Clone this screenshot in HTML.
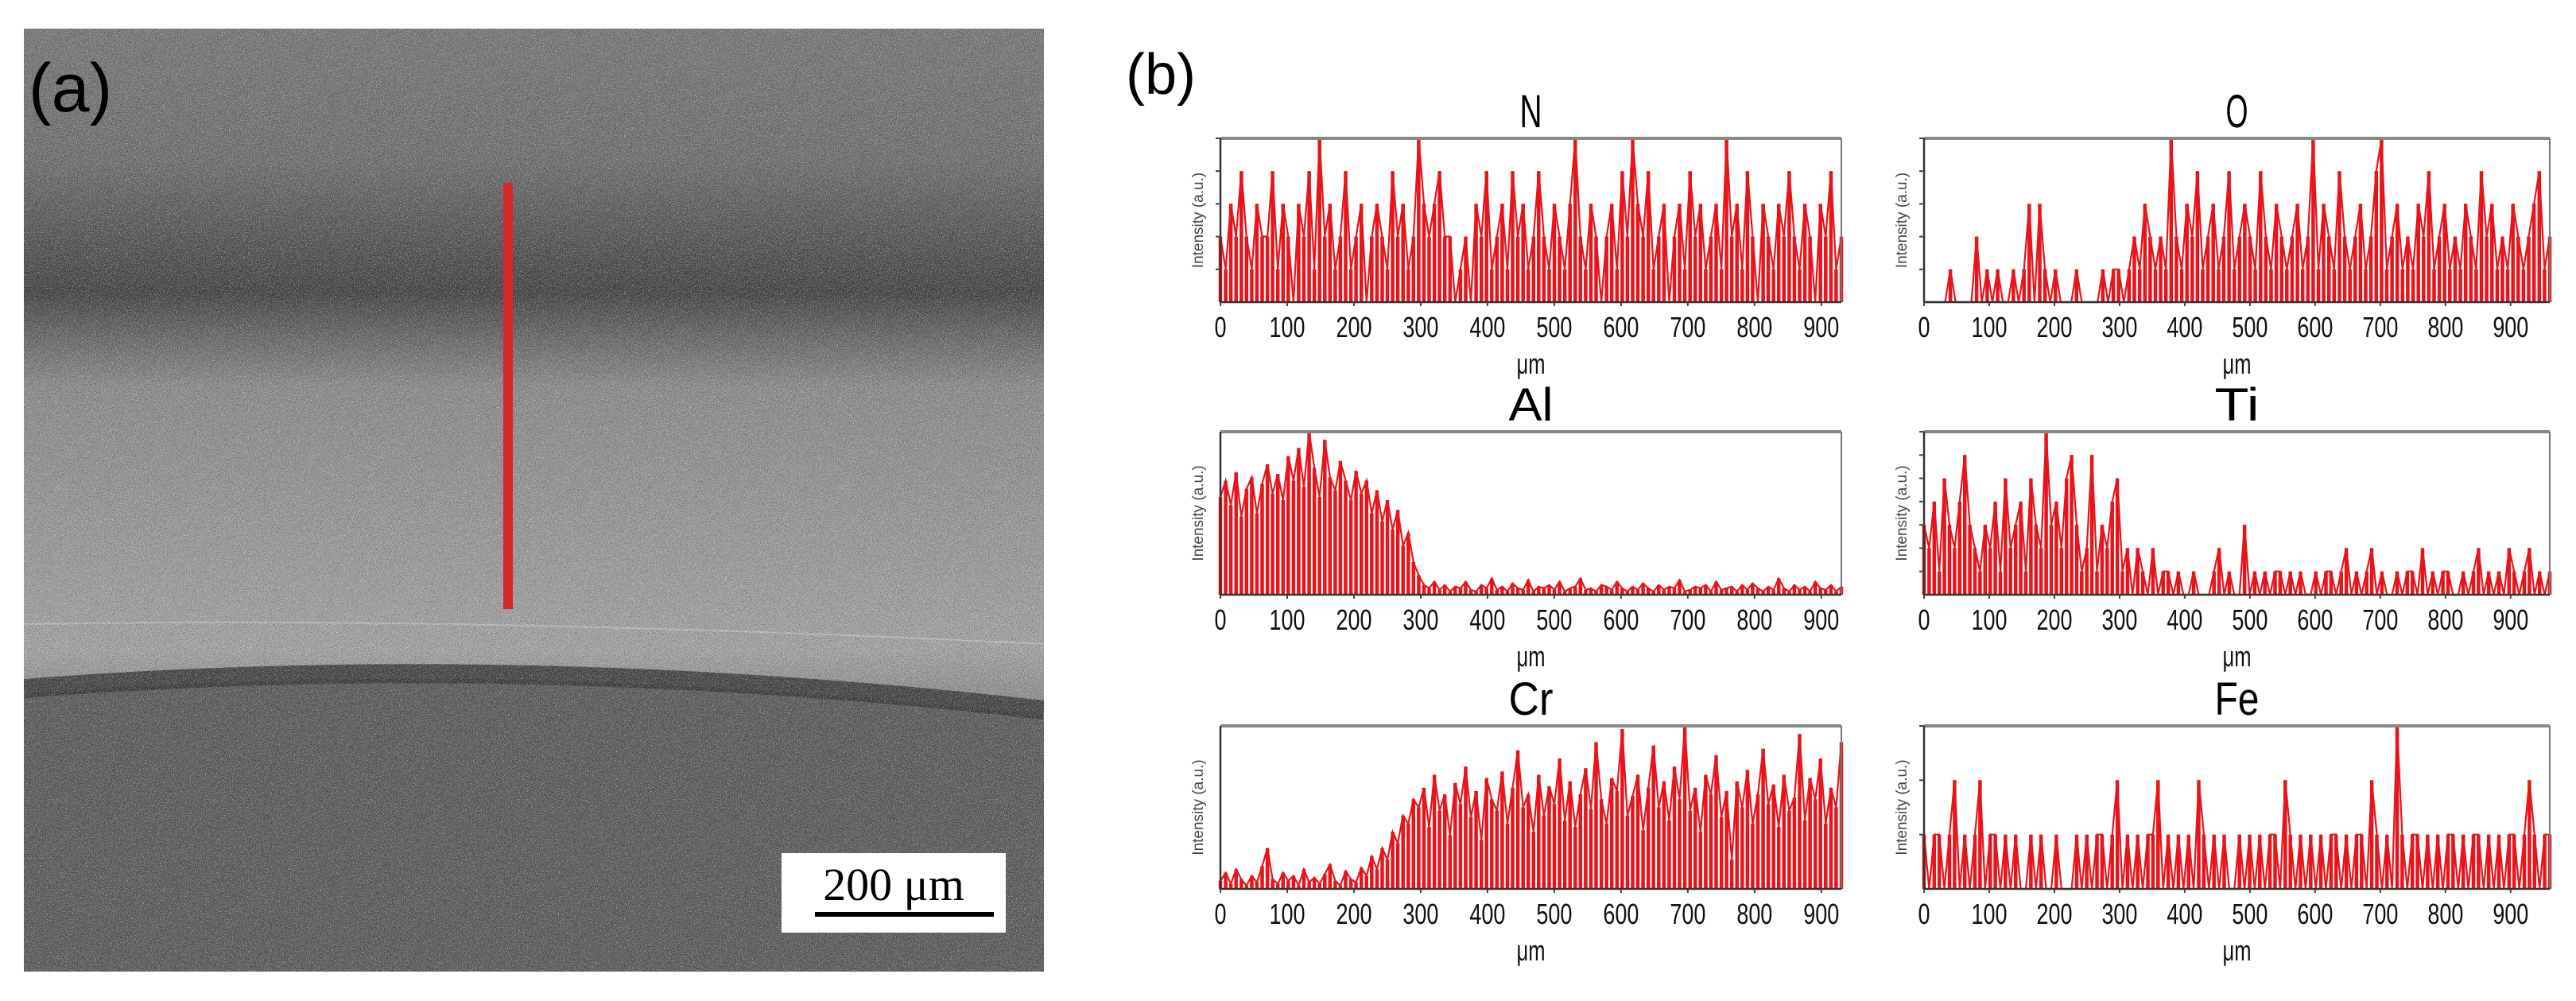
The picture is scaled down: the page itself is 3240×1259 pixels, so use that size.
<!DOCTYPE html>
<html><head><meta charset="utf-8"><style>
html,body{margin:0;padding:0;background:#fff;}
svg{display:block;}
</style></head><body>
<svg id="fig" width="3240" height="1259" viewBox="0 0 3240 1259" xmlns="http://www.w3.org/2000/svg">
<defs>
<filter id="noiseW" x="0" y="0" width="100%" height="100%">
<feTurbulence type="fractalNoise" baseFrequency="1.3" numOctaves="1" seed="3"/>
<feColorMatrix type="matrix" values="0 0 0 0 1  0 0 0 0 1  0 0 0 0 1  6 0 0 0 -3.3"/>
</filter>
<filter id="noiseD" x="0" y="0" width="100%" height="100%">
<feTurbulence type="fractalNoise" baseFrequency="1.3" numOctaves="1" seed="11"/>
<feColorMatrix type="matrix" values="0 0 0 0 0  0 0 0 0 0  0 0 0 0 0  -6 0 0 0 2.8"/>
</filter>
<linearGradient id="semg" x1="0" y1="0" x2="0" y2="1">
<stop offset="0" stop-color="#7a7a7a"/>
<stop offset="0.14" stop-color="#727272"/>
<stop offset="0.22" stop-color="#585858"/>
<stop offset="0.28" stop-color="#464646"/>
<stop offset="0.33" stop-color="#6c6c6c"/>
<stop offset="0.38" stop-color="#8e8e8e"/>
<stop offset="0.55" stop-color="#9c9c9c"/>
<stop offset="0.66" stop-color="#a6a6a6"/>
<stop offset="0.7" stop-color="#949494"/>
<stop offset="1" stop-color="#8a8a8a"/>
</linearGradient>
<clipPath id="semclip"><rect x="30" y="36" width="1283" height="1186"/></clipPath>
</defs>
<g id="sem" clip-path="url(#semclip)">
<rect x="30" y="36" width="1283" height="1186" fill="url(#semg)"/>
<path d="M30 872 Q 650 825 1313 900 L1313 1222 L30 1222 Z" fill="#5e5e5e"/>
<path d="M30 866 Q 650 818 1313 893" stroke="#3a3a3a" stroke-width="24" fill="none" opacity="0.85"/>
<path d="M30 785 Q 600 775 1313 810" stroke="#d0d0d0" stroke-width="2" fill="none" opacity="0.6"/>
<rect x="30" y="36" width="1283" height="1186" filter="url(#noiseW)" opacity="0.7"/>
<rect x="30" y="36" width="1283" height="1186" filter="url(#noiseD)" opacity="0.4"/>
</g>
<rect x="633" y="230" width="12" height="536" fill="#d42a2a"/>
<text x="36" y="140" font-family="Liberation Sans, sans-serif" font-size="86" fill="#000">(a)</text>
<g>
<rect x="983" y="1073" width="282" height="100" fill="#fff"/>
<text x="1124" y="1132" text-anchor="middle" font-family="Liberation Serif, serif" font-size="58" fill="#000">200 μm</text>
<rect x="1025" y="1147" width="225" height="6" fill="#000"/>
</g>
<text x="1416" y="118" font-family="Liberation Sans, sans-serif" font-size="72" fill="#000">(b)</text>
<g id="charts"></g>
</svg>
<script>
const titles = ["N","O","Al","Ti","Cr","Fe"];
const xTicks = [0,100,200,300,400,500,600,700,800,900];
const yMaxes = [5,5,100,7,100,3];
const yTickCounts = [5,5,0,7,0,3];
const nData = [2,1,3,2,4,2,1,3,2,2,4,1,3,2,0,3,2,4,1,5,2,3,1,2,4,1,2,3,0,2,3,2,1,4,2,3,1,2,5,3,2,3,4,2,2,0,1,2,0,3,2,4,1,2,3,1,4,2,3,1,2,4,2,1,3,2,1,3,5,2,1,3,2,0,2,3,1,4,2,5,3,2,4,1,2,3,0,2,3,1,4,2,3,1,2,3,1,5,2,3,1,4,2,0,3,2,1,3,2,4,2,1,3,2,0,3,2,4,1,2];
const oData = [0,0,0,0,0,1,0,0,0,0,2,0,1,0,1,0,0,1,0,1,3,0,3,1,0,1,0,0,0,1,0,0,0,0,1,0,1,1,0,1,2,1,3,2,1,2,1,5,2,1,3,2,4,1,2,3,1,2,4,1,2,3,2,1,4,2,1,3,2,1,2,3,1,2,5,1,3,2,1,4,2,1,2,3,1,2,4,5,1,2,3,1,2,1,3,2,4,1,2,3,1,2,1,3,2,1,4,2,3,1,2,1,3,2,1,2,3,4,1,2];
const alData = [60,70,55,75,48,65,72,50,68,80,62,74,58,85,70,90,66,100,78,60,95,72,64,82,70,58,76,62,70,50,64,45,58,40,52,30,38,20,12,6,4,8,3,6,2,5,4,8,3,2,6,4,10,3,5,2,7,4,3,9,2,5,4,6,3,8,2,4,5,10,3,4,2,6,5,3,8,4,2,5,3,7,4,2,6,3,5,4,9,2,3,5,4,6,2,8,3,4,5,2,6,3,7,4,2,5,3,10,4,2,6,3,5,2,8,4,3,6,2,5];
const tiData = [3,2,4,1,5,3,2,4,6,3,2,1,3,2,4,1,5,2,3,4,1,5,3,2,7,3,4,2,5,6,3,1,2,6,1,3,2,4,5,1,2,0,2,1,0,2,0,1,1,0,1,0,0,1,0,0,0,1,2,0,1,0,0,3,0,1,0,1,0,1,1,0,1,0,1,0,0,1,0,1,1,0,1,2,0,1,0,1,2,0,1,0,0,1,0,1,1,0,2,0,1,0,1,1,0,0,1,0,1,2,0,1,0,1,0,2,1,0,1,2,0,1,0,1];
const crData = [5,10,3,12,6,2,8,4,14,25,6,3,10,5,8,2,12,4,7,3,9,15,5,2,11,6,4,13,8,20,12,25,18,35,28,45,40,55,50,62,38,70,48,58,33,65,52,75,44,60,30,68,55,48,72,40,62,85,50,58,35,70,45,63,52,80,42,66,38,58,74,49,90,55,40,68,60,98,45,57,70,36,62,88,50,66,42,75,55,100,48,62,35,70,58,82,44,60,18,66,50,73,40,58,86,52,64,38,70,48,56,95,42,68,55,80,40,62,50,90];
const feData = [1,0,1,1,0,1,2,0,1,0,1,2,0,1,1,0,1,0,1,0,0,1,0,1,0,0,1,0,0,0,1,0,1,0,1,1,0,1,2,0,1,0,1,0,1,1,2,0,1,0,1,0,1,0,2,1,0,1,0,1,0,0,1,0,1,0,1,0,1,1,0,2,1,0,1,0,1,0,1,0,1,1,0,1,0,1,1,0,2,1,0,1,0,3,1,0,1,1,0,1,0,1,0,1,1,0,1,0,1,1,0,1,0,1,0,1,1,0,1,2,1,0,1,1];
const allData = [nData,oData,alData,tiData,crData,feData];

const NS = "http://www.w3.org/2000/svg";
const root = document.getElementById("charts");
const cols = [{x0:1535,x1:2316,xmax:930},{x0:2420,x1:3207,xmax:960}];
const rows = [{t:174,b:380},{t:543,b:748},{t:913,b:1118}];
function mk(tag, attrs, parent){const e=document.createElementNS(NS,tag);for(const k in attrs)e.setAttribute(k,attrs[k]);parent.appendChild(e);return e;}

for(let i=0;i<6;i++){
  const c=cols[i%2], r=rows[Math.floor(i/2)];
  const ymax=yMaxes[i], data=allData[i];
  const xs=v=>c.x0+(v/c.xmax)*(c.x1-c.x0);
  const ys=v=>r.b-(v/ymax)*(r.b-r.t);
  const g=mk("g",{},root);
  
  
  const bg=mk("rect",{x:c.x0,y:r.t,width:c.x1-c.x0,height:r.b-r.t,fill:"#fff"},g);
  
  
  const step=c.xmax/(data.length-1);
  let d="";
  data.forEach((v,j)=>{const x=xs(j*step).toFixed(1);d+="M"+x+" "+r.b+"V"+ys(v).toFixed(1);});
  const st=mk("path",{d:d,stroke:"#e8141a","stroke-width":4.5,fill:"none"},g);
  
  
  let pts=data.map((v,j)=>xs(j*step).toFixed(1)+","+ys(v).toFixed(1)).join(" ");
  const pl=mk("polyline",{points:pts,fill:"none",stroke:"#e8141a","stroke-width":2.2},g);
  
  
  const tb=mk("line",{x1:c.x0,y1:r.t,x2:c.x1,y2:r.t,stroke:"#888","stroke-width":4},g);
  
  
  const rb=mk("line",{x1:c.x1,y1:r.t,x2:c.x1,y2:r.b,stroke:"#777","stroke-width":2},g);
  
  
  const xa=mk("line",{x1:c.x0,y1:r.b,x2:c.x1,y2:r.b,stroke:"#333","stroke-width":2.5},g);
  
  
  const ya=mk("line",{x1:c.x0,y1:r.t,x2:c.x0,y2:r.b,stroke:"#333","stroke-width":2.5},g);
  
  
  for(let k=1;k<=yTickCounts[i];k++){
    const yy=ys(k*ymax/yTickCounts[i]);
    const tk=mk("line",{x1:c.x0-6,y1:yy,x2:c.x0,y2:yy,stroke:"#444","stroke-width":2},g);
    
    
  }
  xTicks.forEach(v=>{
    const tk=mk("line",{x1:xs(v),y1:r.b,x2:xs(v),y2:r.b+5,stroke:"#444","stroke-width":2},g);
    
    
    const s=String(v);
    const t=mk("text",{x:xs(v),y:r.b+44,"text-anchor":"middle","font-family":"Liberation Sans, sans-serif","font-size":36,fill:"#111",textLength:(s.length*15),lengthAdjust:"spacingAndGlyphs"},g);
    t.textContent=s;
    
    
  });
  const xl=mk("text",{x:(c.x0+c.x1)/2,y:r.b+90,"text-anchor":"middle","font-family":"Liberation Sans, sans-serif","font-size":36,fill:"#111",textLength:36,lengthAdjust:"spacingAndGlyphs"},g);
  xl.textContent="μm";
  
  
  const cy=(r.t+r.b)/2, cx=c.x0-22;
  const yl=mk("text",{x:cx,y:cy,"text-anchor":"middle","font-family":"Liberation Sans, sans-serif","font-size":19,fill:"#444",transform:"rotate(-90 "+cx+" "+cy+")"},g);
  yl.textContent="Intensity (a.u.)";
  
  
  const tt=mk("text",{x:(c.x0+c.x1)/2,y:r.t-14,"text-anchor":"middle","font-family":"Liberation Sans, sans-serif","font-size":58,fill:"#000",textLength:(titles[i].length*28),lengthAdjust:"spacingAndGlyphs"},g);
  tt.textContent=titles[i];
  
  
}
</script>
</body></html>
